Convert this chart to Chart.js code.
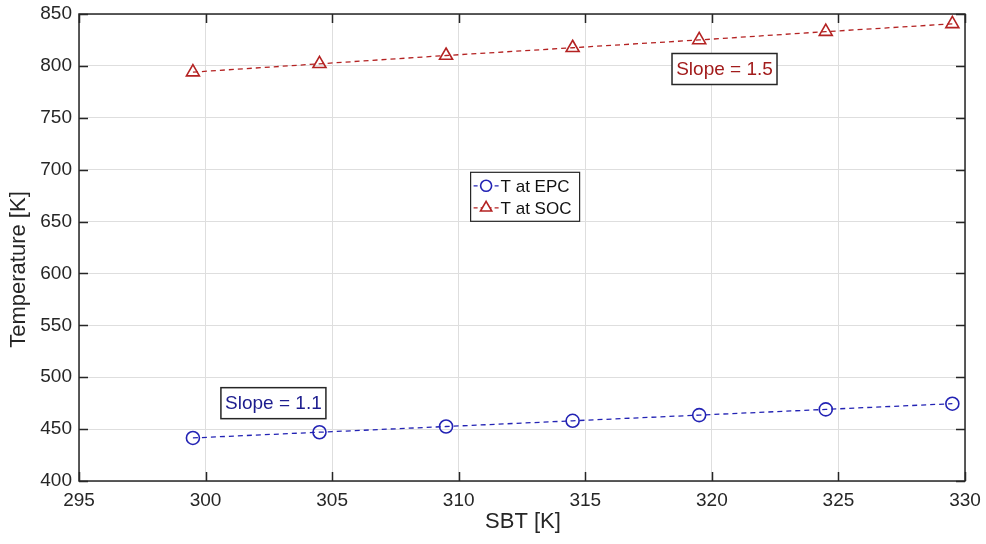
<!DOCTYPE html>
<html>
<head>
<meta charset="utf-8">
<script src="https://cdn.jsdelivr.net/npm/chart.js@4.4.1/dist/chart.umd.min.js"></script>
<style>
  html, body { margin: 0; padding: 0; background: #ffffff; }
  #wrap { width: 986px; height: 544px; position: relative; }
</style>
</head>
<body>
<div id="wrap"><canvas id="c" width="986" height="544"></canvas></div>
<script>
// Supply-boiler temperature sweep (x) and resulting temperatures (y)
const sbt = [299.5, 304.5, 309.5, 314.5, 319.5, 324.5, 329.5];
const tEPC = [441.5, 447, 452.5, 458, 463.5, 469, 474.5];
const tSOC = [794, 802, 810, 817.5, 825, 833, 840.5];
const xTicks = [295, 300, 305, 310, 315, 320, 325, 330];
const yTicks = [400, 450, 500, 550, 600, 650, 700, 750, 800, 850];
const seriesLabels = ['T at EPC', 'T at SOC'];
const axisTitles = { x: 'SBT [K]', y: 'Temperature [K]' };
const slopeNotes = [
  { text: 'Slope = 1.1', x: 302.68, y: 475, color: '#1c1c8e' },
  { text: 'Slope = 1.5', x: 320.5, y: 797, color: '#a21c1c' }
];

const BLUE = '#2323b4';
const RED = '#b42222';
const AXIS = '#262626';
const FONT = '"Liberation Sans", Arial, Helvetica, sans-serif';

function pts(xs, ys) { return xs.map((x, i) => ({ x: x, y: ys[i] })); }

// Box outline with inward ticks on all four sides
const boxPlugin = {
  id: 'boxAxes',
  afterDatasetsDraw(chart) {
    const { ctx, chartArea: a, scales } = chart;
    ctx.save();
    ctx.strokeStyle = AXIS;
    ctx.lineWidth = 1.5;
    ctx.strokeRect(a.left, a.top, a.right - a.left, a.bottom - a.top);
    const tl = 9;
    ctx.beginPath();
    xTicks.forEach(v => {
      const px = Math.round(scales.x.getPixelForValue(v)) + 0.5;
      ctx.moveTo(px, a.bottom); ctx.lineTo(px, a.bottom - tl);
      ctx.moveTo(px, a.top); ctx.lineTo(px, a.top + tl);
    });
    yTicks.forEach(v => {
      const py = Math.round(scales.y.getPixelForValue(v)) + 0.5;
      ctx.moveTo(a.left, py); ctx.lineTo(a.left + tl, py);
      ctx.moveTo(a.right, py); ctx.lineTo(a.right - tl, py);
    });
    ctx.stroke();
    ctx.restore();
  }
};

// Axis titles
const titlesPlugin = {
  id: 'axisTitles',
  afterDraw(chart) {
    const { ctx, chartArea: a } = chart;
    ctx.save();
    ctx.fillStyle = AXIS;
    ctx.font = '22px ' + FONT;
    ctx.textAlign = 'center';
    ctx.textBaseline = 'middle';
    ctx.fillText(axisTitles.x, (a.left + a.right) / 2 + 1, a.bottom + 41);
    ctx.translate(19, (a.top + a.bottom) / 2 + 22);
    ctx.rotate(-Math.PI / 2);
    ctx.fillText(axisTitles.y, 0, 0);
    ctx.restore();
  }
};

// Text boxes stating the fitted slopes
const notesPlugin = {
  id: 'slopeNotes',
  afterDraw(chart) {
    const { ctx, scales } = chart;
    ctx.save();
    ctx.font = '19px ' + FONT;
    ctx.textAlign = 'center';
    ctx.textBaseline = 'middle';
    slopeNotes.forEach(n => {
      const cx = scales.x.getPixelForValue(n.x);
      const cy = scales.y.getPixelForValue(n.y);
      const w = 105, h = 31;
      ctx.fillStyle = '#ffffff';
      ctx.fillRect(cx - w / 2, cy - h / 2, w, h);
      ctx.strokeStyle = AXIS;
      ctx.lineWidth = 1.5;
      ctx.strokeRect(cx - w / 2, cy - h / 2, w, h);
      ctx.fillStyle = n.color;
      ctx.fillText(n.text, cx, cy + 1);
    });
    ctx.restore();
  }
};

// Legend box inside the plot area
const legendPlugin = {
  id: 'boxLegend',
  afterDraw(chart) {
    const { ctx, chartArea: a } = chart;
    const left = a.left + (a.right - a.left) * 0.442;
    const top = a.top + (a.bottom - a.top) * 0.339;
    const w = 109, h = 49;
    ctx.save();
    ctx.fillStyle = '#ffffff';
    ctx.fillRect(left, top, w, h);
    ctx.strokeStyle = AXIS;
    ctx.lineWidth = 1.2;
    ctx.strokeRect(left, top, w, h);
    ctx.font = '17px ' + FONT;
    ctx.textBaseline = 'middle';
    chart.data.datasets.forEach((ds, i) => {
      const y = top + 13.5 + i * 22;
      ctx.strokeStyle = ds.borderColor;
      ctx.lineWidth = 1.3;
      ctx.setLineDash([4, 3]);
      ctx.beginPath();
      ctx.moveTo(left + 3, y); ctx.lineTo(left + 28, y);
      ctx.stroke();
      ctx.setLineDash([]);
      ctx.fillStyle = '#ffffff';
      ctx.strokeStyle = ds.borderColor;
      ctx.lineWidth = 1.6;
      Chart.helpers.drawPoint(ctx, {
        pointStyle: ds.pointStyle, radius: ds.pointRadius - 1, borderWidth: 1.6
      }, left + 15.5, y);
      ctx.fillStyle = '#111111';
      ctx.fillText(ds.label, left + 30, y + 1);
    });
    ctx.restore();
  }
};

const chart = new Chart(document.getElementById('c'), {
  type: 'line',
  data: {
    datasets: [
      {
        label: seriesLabels[0],
        data: pts(sbt, tEPC),
        borderColor: BLUE,
        backgroundColor: 'rgba(0,0,0,0)',
        borderWidth: 1.3,
        borderDash: [5, 4],
        pointStyle: 'circle',
        pointRadius: 6.5,
        pointBorderWidth: 1.6,
        pointBorderColor: BLUE,
        pointBackgroundColor: 'rgba(0,0,0,0)',
        tension: 0
      },
      {
        label: seriesLabels[1],
        data: pts(sbt, tSOC),
        borderColor: RED,
        backgroundColor: 'rgba(0,0,0,0)',
        borderWidth: 1.3,
        borderDash: [5, 4],
        pointStyle: 'triangle',
        pointRadius: 7.5,
        pointBorderWidth: 1.6,
        pointBorderColor: RED,
        pointBackgroundColor: 'rgba(0,0,0,0)',
        tension: 0
      }
    ]
  },
  options: {
    responsive: false,
    animation: false,
    layout: { padding: { top: 14, right: 21, left: 0, bottom: 0 } },
    plugins: { legend: { display: false }, tooltip: { enabled: false } },
    scales: {
      x: {
        type: 'linear',
        min: 295, max: 330,
        afterBuildTicks: s => { s.ticks = xTicks.map(v => ({ value: v })); },
        afterFit: s => { s.height = 63; s.paddingLeft = 0; s.paddingRight = 0; },
        grid: { color: '#dedede', lineWidth: 1, drawTicks: false },
        border: { display: false },
        ticks: { color: AXIS, font: { family: FONT, size: 19 }, padding: 8, maxRotation: 0 },
        title: { display: false }
      },
      y: {
        type: 'linear',
        min: 400, max: 850,
        afterBuildTicks: s => { s.ticks = yTicks.map(v => ({ value: v })); },
        afterFit: s => { s.width = 79; s.paddingTop = 0; s.paddingBottom = 0; },
        grid: { color: '#dedede', lineWidth: 1, drawTicks: false },
        border: { display: false },
        ticks: { color: AXIS, font: { family: FONT, size: 19 }, padding: 7 },
        title: { display: false }
      }
    }
  },
  plugins: [boxPlugin, titlesPlugin, notesPlugin, legendPlugin]
});
</script>
</body>
</html>
